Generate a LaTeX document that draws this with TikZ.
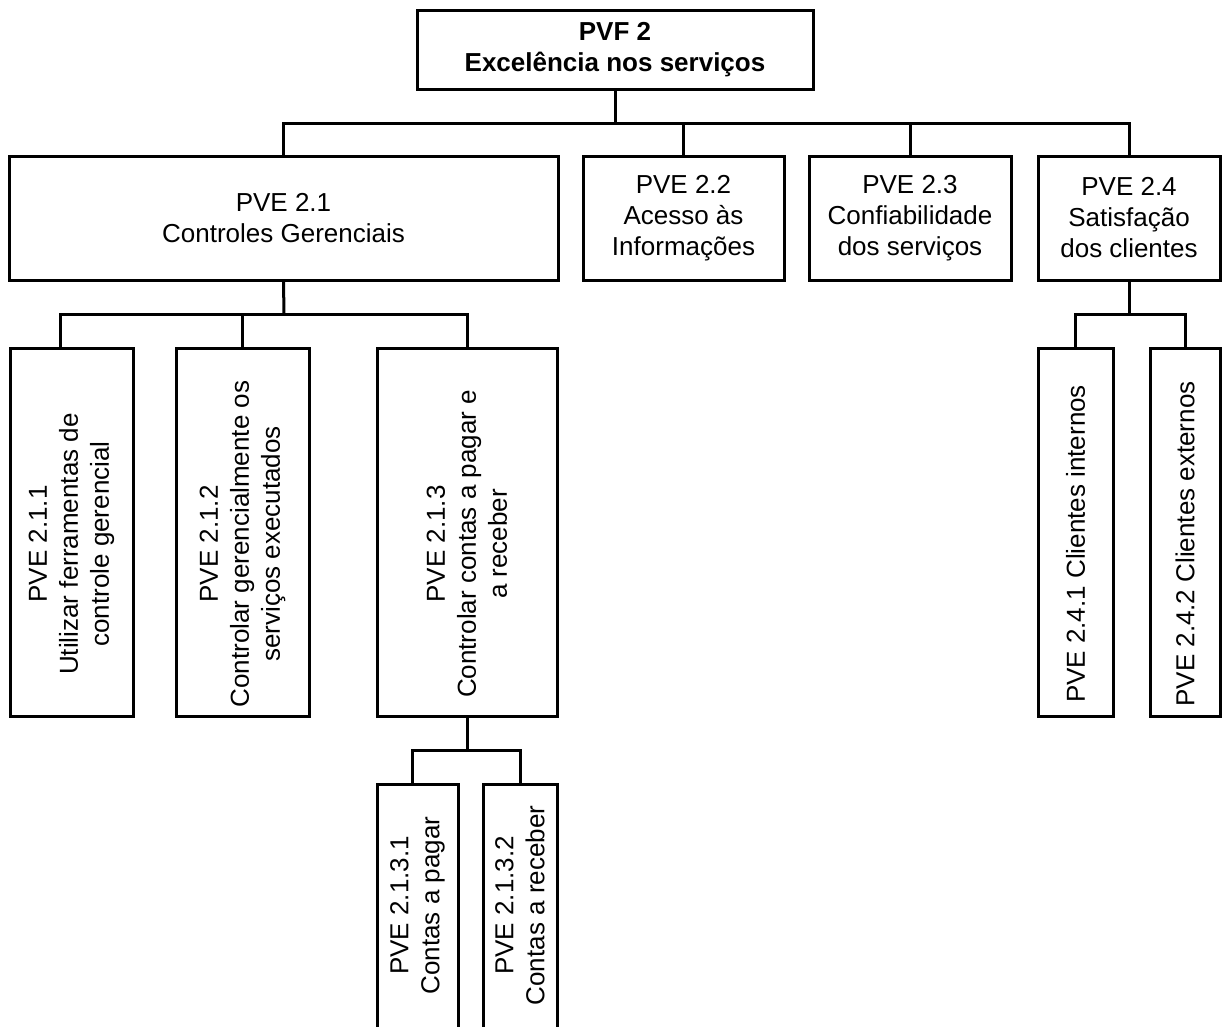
\documentclass[tikz,border=0pt]{standalone}
\usepackage{fontspec}
\setmainfont{Liberation Sans}
\begin{document}
\begin{tikzpicture}[x=1pt,y=-1pt,
  blk/.style={draw, line width=3pt, inner sep=0pt, align=center,
              font=\fontsize{26}{31}\selectfont},
  lbl/.style={inner sep=0pt, align=center, font=\fontsize{26}{31}\selectfont},
  wire/.style={line width=3pt}]
\useasboundingbox (0,0) rectangle (1223,1026);
\clip (0,0) rectangle (1223,1026);

% root
\node[blk, font=\fontsize{26}{31}\selectfont\bfseries,
      minimum width=396pt, minimum height=79pt] (top) at (615,49.5)
      {PVF 2\\Excelência nos serviços};

% second level
\node[blk, minimum width=549pt, minimum height=124pt] (p21) at (283.5,218)
      {PVE 2.1\\Controles Gerenciais};
\node[blk, minimum width=201pt, minimum height=124pt] (p22) at (683.5,218)
      {PVE 2.2\\Acesso às\\Informações};
\node[blk, minimum width=202pt, minimum height=124pt] (p23) at (910,218)
      {PVE 2.3\\Confiabilidade\\dos serviços};
\node[blk, minimum width=182pt, minimum height=124pt] (p24) at (1129,218)
      {PVE 2.4\\Satisfação\\dos clientes};

% third level (boxes, then rotated labels)
\node[blk, minimum width=123pt, minimum height=368pt] (p211) at (71.5,532) {};
\node[blk, minimum width=133pt, minimum height=368pt] (p212) at (242.5,532) {};
\node[blk, minimum width=180pt, minimum height=368pt] (p213) at (467,532) {};
\node[blk, minimum width=75pt, minimum height=368pt] (p241) at (1075.5,532) {};
\node[blk, minimum width=70pt, minimum height=368pt] (p242) at (1185,532) {};

\node[lbl, rotate=90] at ([yshift=-12pt]p211.center)
      {PVE 2.1.1\\Utilizar ferramentas de\\controle gerencial};
\node[lbl, rotate=90] at ([yshift=-12pt]p212.center)
      {PVE 2.1.2\\Controlar gerencialmente os\\serviços executados};
\node[lbl, rotate=90] at ([yshift=-12pt]p213.center)
      {PVE 2.1.3\\Controlar contas a pagar e\\a receber};
\node[lbl, rotate=90] at ([yshift=-12pt]p241.center)
      {PVE 2.4.1 Clientes internos};
\node[lbl, rotate=90] at ([yshift=-12pt]p242.center)
      {PVE 2.4.2 Clientes externos};

% fourth level, running past the lower edge
\node[blk, minimum width=81pt, minimum height=400pt] (p2131) at (417.5,984) {};
\node[blk, minimum width=74pt, minimum height=400pt] (p2132) at (520,984) {};
\node[lbl, rotate=90] at ([yshift=-123pt]p2131.north)
      {PVE 2.1.3.1\\Contas a pagar};
\node[lbl, rotate=90] at ([yshift=-123pt]p2132.north)
      {PVE 2.1.3.2\\Contas a receber};

% connectors
\coordinate (bus1) at (615,123);
\coordinate (bus2) at (284,314);
\coordinate (bus3) at (467,750);
\coordinate (bus4) at (1129,314);

\draw[wire] (top.south) -- (bus1);
\draw[wire] (p21.north) -- (p21.north |- bus1) -- (p24.north |- bus1) -- (p24.north);
\draw[wire] (p22.north) -- (p22.north |- bus1);
\draw[wire] (p23.north) -- (p23.north |- bus1);

\draw[wire] (p21.south) -- (bus2);
\draw[wire] ([xshift=-11.5pt]p211.north) -- ([xshift=-11.5pt]p211.north |- bus2)
            -- (p213.north |- bus2) -- (p213.north);
\draw[wire] (p212.north) -- (p212.north |- bus2);

\draw[wire] (p24.south) -- (bus4);
\draw[wire] (p241.north) -- (p241.north |- bus4) -- (p242.north |- bus4) -- (p242.north);

\draw[wire] (p213.south) -- (bus3);
\draw[wire] ([xshift=-5.5pt]p2131.north) -- ([xshift=-5.5pt]p2131.north |- bus3)
            -- (p2132.north |- bus3) -- (p2132.north);
\end{tikzpicture}
\end{document}
